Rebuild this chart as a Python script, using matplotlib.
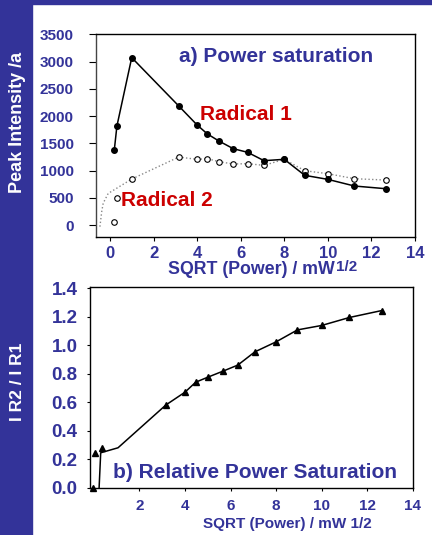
"""
Power saturation of two radicals (a) and their intensity ratio (b).
"""

import matplotlib.pyplot as plt

plt.rcParams['font.family'] = ['Liberation Sans', 'DejaVu Sans']
plt.rcParams['font.weight'] = 'bold'

BLUE = '#333399'
RED = '#CC0000'

# SQRT(power) / mW^1/2
sqrt_power = [0.2, 0.32, 1.0, 3.16, 4.0, 4.47, 5.0, 5.66, 6.32, 7.07, 8.0, 8.94, 10.0, 11.22, 12.65]

# Peak intensities (a.u.)
radical1 = [1377, 1817, 3072, 2184, 1836, 1672, 1542, 1401, 1334, 1181, 1206, 912, 838, 716, 667]
radical2 = [61, 490, 844, 1248, 1205, 1218, 1163, 1120, 1126, 1095, 1206, 997, 942, 850, 826]

# dotted guide line of radical 2 (start differs from the markers)
rad2_line_x = [-0.46, -0.38, -0.31, -0.08] + sqrt_power[2:]
rad2_line_y = [-30, 240, 400, 580] + radical2[2:]

# I R2 / I R1
ratio = [0.0, 0.245, 0.28, 0.58, 0.67, 0.74, 0.775, 0.817, 0.86, 0.953, 1.023, 1.107, 1.138, 1.194, 1.243]
ratio_mark_x = [-0.06, 0.04, 0.36] + sqrt_power[3:]
ratio_line_x = [0.23, 0.3, 1.06] + sqrt_power[3:]

W, H = 432, 535
fig = plt.figure(figsize=(W / 100, H / 100), dpi=100)
fig.patch.set_facecolor('white')

# slide background strips
fig.patches.append(plt.Rectangle((0, 0), 32 / W, 1, transform=fig.transFigure,
                                 color=BLUE, zorder=0))
fig.patches.append(plt.Rectangle((0, 1 - 4 / H), 1, 4 / H, transform=fig.transFigure,
                                 color=BLUE, zorder=0))

# ---- a) power saturation ----
ax1 = fig.add_axes([96 / W, 1 - 236.7 / H, 319 / W, 202.4 / H])
ax1.plot(rad2_line_x, rad2_line_y, ':', color='#888888', lw=1.0)
ax1.plot(sqrt_power, radical2, 'o', color='black', mfc='white', ms=4, mew=0.8, clip_on=False)
ax1.plot(sqrt_power, radical1, '-o', color='black', ms=4, lw=1.1, clip_on=False)
ax1.set_xlim(-0.64, 13.9)
ax1.set_ylim(-214, 3500)
ax1.set_xticks(range(0, 15, 2))
ax1.set_yticks(range(0, 3501, 500))
ax1.tick_params(axis='x', labelsize=12, labelcolor=BLUE, length=3, pad=4)
ax1.tick_params(axis='y', labelsize=11, labelcolor=BLUE, length=5, pad=11)
ax1.spines['left'].set_color('#444444')

# ---- b) relative power saturation ----
ax2 = fig.add_axes([90 / W, 1 - 487.7 / H, 322.7 / W, 201 / H])
ax2.plot(ratio_line_x, ratio, '-', color='black', lw=1.1)
ax2.plot(ratio_mark_x, ratio, '^', color='black', ms=5, clip_on=False)
ax2.set_xlim(-0.17, 13.9)
ax2.set_ylim(0, 1.41)
ax2.set_xticks(range(2, 15, 2))
ax2.set_yticks([0.0, 0.2, 0.4, 0.6, 0.8, 1.0, 1.2, 1.4])
ax2.set_yticklabels([f'{v:.1f}' for v in ax2.get_yticks()])
ax2.tick_params(axis='x', labelsize=11, labelcolor=BLUE, length=2, pad=6)
ax2.tick_params(axis='y', labelsize=13.5, labelcolor=BLUE, length=2, pad=7)

for ax in (ax1, ax2):
    ax.set_facecolor('white')
    for sp in ax.spines.values():
        sp.set_linewidth(1.0)
    for lab in ax.get_xticklabels() + ax.get_yticklabels():
        lab.set_fontweight('bold')

# annotations
fig.text(179 / W, 1 - 56 / H, 'a) Power saturation', color=BLUE, fontsize=15,
         fontweight='bold', va='center')
fig.text(200 / W, 1 - 114 / H, 'Radical 1', color=RED, fontsize=15,
         fontweight='bold', va='center')
fig.text(121 / W, 1 - 200 / H, 'Radical 2', color=RED, fontsize=15,
         fontweight='bold', va='center')
fig.text(113 / W, 1 - 472.5 / H, 'b) Relative Power Saturation', color=BLUE, fontsize=15,
         fontweight='bold', va='center')

# top x label with raised "1/2"
fig.text(335 / W, 1 - 269 / H, 'SQRT (Power) / mW', color=BLUE, fontsize=12.8,
         fontweight='bold', ha='right', va='center')
fig.text(336 / W, 1 - 267 / H, '1/2', color=BLUE, fontsize=11,
         fontweight='bold', ha='left', va='center')
fig.text(287 / W, 1 - 524 / H, 'SQRT (Power) / mW 1/2', color=BLUE, fontsize=11,
         fontweight='bold', ha='center', va='center')

fig.text(18 / W, 1 - 122 / H, 'Peak Intensity /a', color='white', fontsize=13,
         fontweight='bold', rotation=90, ha='center', va='center')
fig.text(18 / W, 1 - 382 / H, 'I R2 / I R1', color='white', fontsize=12.5,
         fontweight='bold', rotation=90, ha='center', va='center')

fig.savefig('out.png', dpi=100)
plt.close(fig)
